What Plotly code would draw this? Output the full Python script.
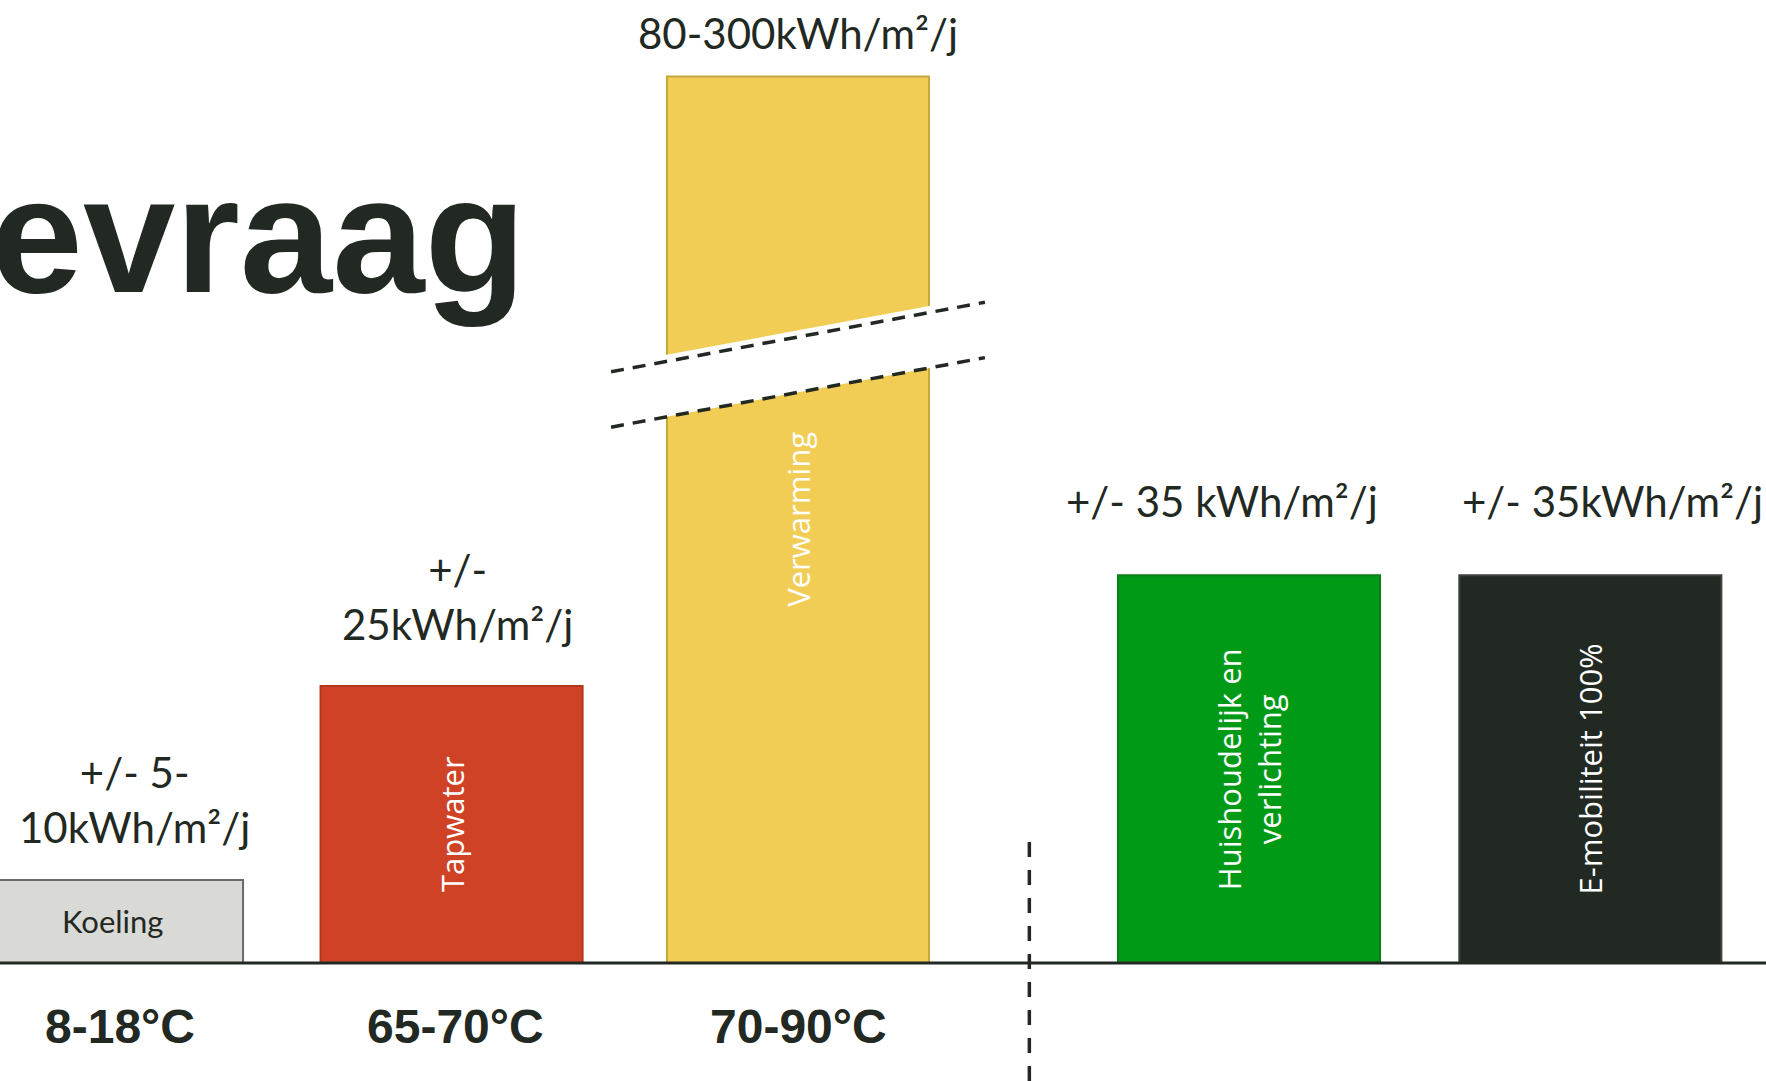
import plotly.graph_objects as go

# --- data -------------------------------------------------------------
categories = ["Koeling", "Tapwater", "Verwarming",
              "Huishoudelijk en<br>verlichting", "E-mobiliteit 100%"]
values = [7.5, 25, 80, 35, 35]          # kWh/m²/j (Verwarming: lower end, axis broken above)
value_labels = ["+/- 5-<br>10kWh/m²/j", "+/-<br>25kWh/m²/j", "80-300kWh/m²/j",
                "+/- 35 kWh/m²/j", "+/- 35kWh/m²/j"]
temp_labels = ["8-18°C", "65-70°C", "70-90°C"]
title_text = "Energievraag"

# --- layout / style ----------------------------------------------------
W, H = 1766, 1081
slots = [0, 0.99, 2, 3.315, 4.31]       # horizontal slot of each bar
bar_w = 0.764
px_per_slot = 343.0
slot0_px = 112.0
px_per_unit = 11.08
base_px = 963.0

fills = ["#d9dad6", "#d04225", "#f2cd55", "#009a17", "#222822"]
edges = ["#6a6a66", "#b3361c", "#c8a63f", "#0b7d19", "#3d403c"]
text_col = ["#222822", "white", "white", "white", "white"]
ink = "#222822"

label_shift = [26, 35, 17, 47, 47]
label_xshift = [22, 6, 0, -27, 22]
temp_xshift = [8, 4, 0]

xr = [-slot0_px / px_per_slot, (W - slot0_px) / px_per_slot]
yr = [-(H - base_px) / px_per_unit, base_px / px_per_unit]

fig = go.Figure()
fig.add_trace(go.Bar(
    x=slots, y=values, width=bar_w,
    marker=dict(color=fills, line=dict(color=edges, width=2)),
    hoverinfo="skip", showlegend=False,
))

ann = []
# values above the bars
for xs, v, t, ys, xsh in zip(slots, values, value_labels, label_shift, label_xshift):
    ann.append(dict(x=xs, y=v, text=t, showarrow=False, yanchor="bottom",
                    yshift=ys, xshift=xsh,
                    font=dict(family="Lato", size=42, color=ink)))
# names inside the bars
for i, (xs, v, c) in enumerate(zip(slots, values, categories)):
    ann.append(dict(x=xs, y=v / 2, text=c, showarrow=False,
                    textangle=0 if i == 0 else -90,
                    font=dict(family="Open Sans" if i else "Lato",
                              size=31, color=text_col[i])))
# temperature levels under the thermal bars
for xs, t, xsh in zip(slots, temp_labels, temp_xshift):
    ann.append(dict(x=xs, y=0, text="<b>" + t + "</b>", showarrow=False,
                    yanchor="middle", yshift=-63, xshift=xsh,
                    font=dict(family="Liberation Sans, Arial", size=48, color=ink)))

# big heading, running off the left edge
ann.append(dict(x=528 / W, y=1 - 235 / H, xref="paper", yref="paper",
                xanchor="right", yanchor="middle", showarrow=False,
                text="<b>" + title_text + "</b>",
                font=dict(family="Liberation Sans, Arial", size=166, color=ink)))

shapes = []
# axis break on the heating bar
xc = slots[2]
mid = 54.3
half_gap = 2.8
slope = 5.76
pad = 0.02
xl, xrr = xc - bar_w / 2 - pad, xc + bar_w / 2 + pad


def yline(x, off):
    return mid + off + slope * (x - xc)


path = (f"M {xl},{yline(xl, -half_gap)} L {xrr},{yline(xrr, -half_gap)} "
        f"L {xrr},{yline(xrr, half_gap)} L {xl},{yline(xl, half_gap)} Z")
shapes.append(dict(type="path", path=path, fillcolor="white",
                   line=dict(width=0), layer="above"))
ext = 0.545
for off in (half_gap - 0.6, -half_gap):
    shapes.append(dict(type="line", x0=xc - ext, y0=yline(xc - ext, off),
                       x1=xc + ext, y1=yline(xc + ext, off),
                       line=dict(color=ink, width=3.5, dash="13px,9px"),
                       layer="above"))

# baseline
shapes.append(dict(type="line", xref="paper", x0=0, x1=1, y0=0, y1=0,
                   line=dict(color=ink, width=3), layer="above"))

# divider between heat demand and electricity demand
xdiv = (slots[2] + slots[3]) / 2 + 0.017
shapes.append(dict(type="line", x0=xdiv, x1=xdiv, y0=yr[0], y1=11.1,
                   line=dict(color=ink, width=3.5, dash="15px,13px"),
                   layer="above"))

fig.update_layout(
    width=W, height=H,
    margin=dict(l=0, r=0, t=0, b=0),
    paper_bgcolor="white", plot_bgcolor="white",
    xaxis=dict(range=xr, visible=False, fixedrange=True),
    yaxis=dict(range=yr, visible=False, fixedrange=True),
    annotations=ann, shapes=shapes,
)

fig.write_html("out.html", config={"displayModeBar": False})
